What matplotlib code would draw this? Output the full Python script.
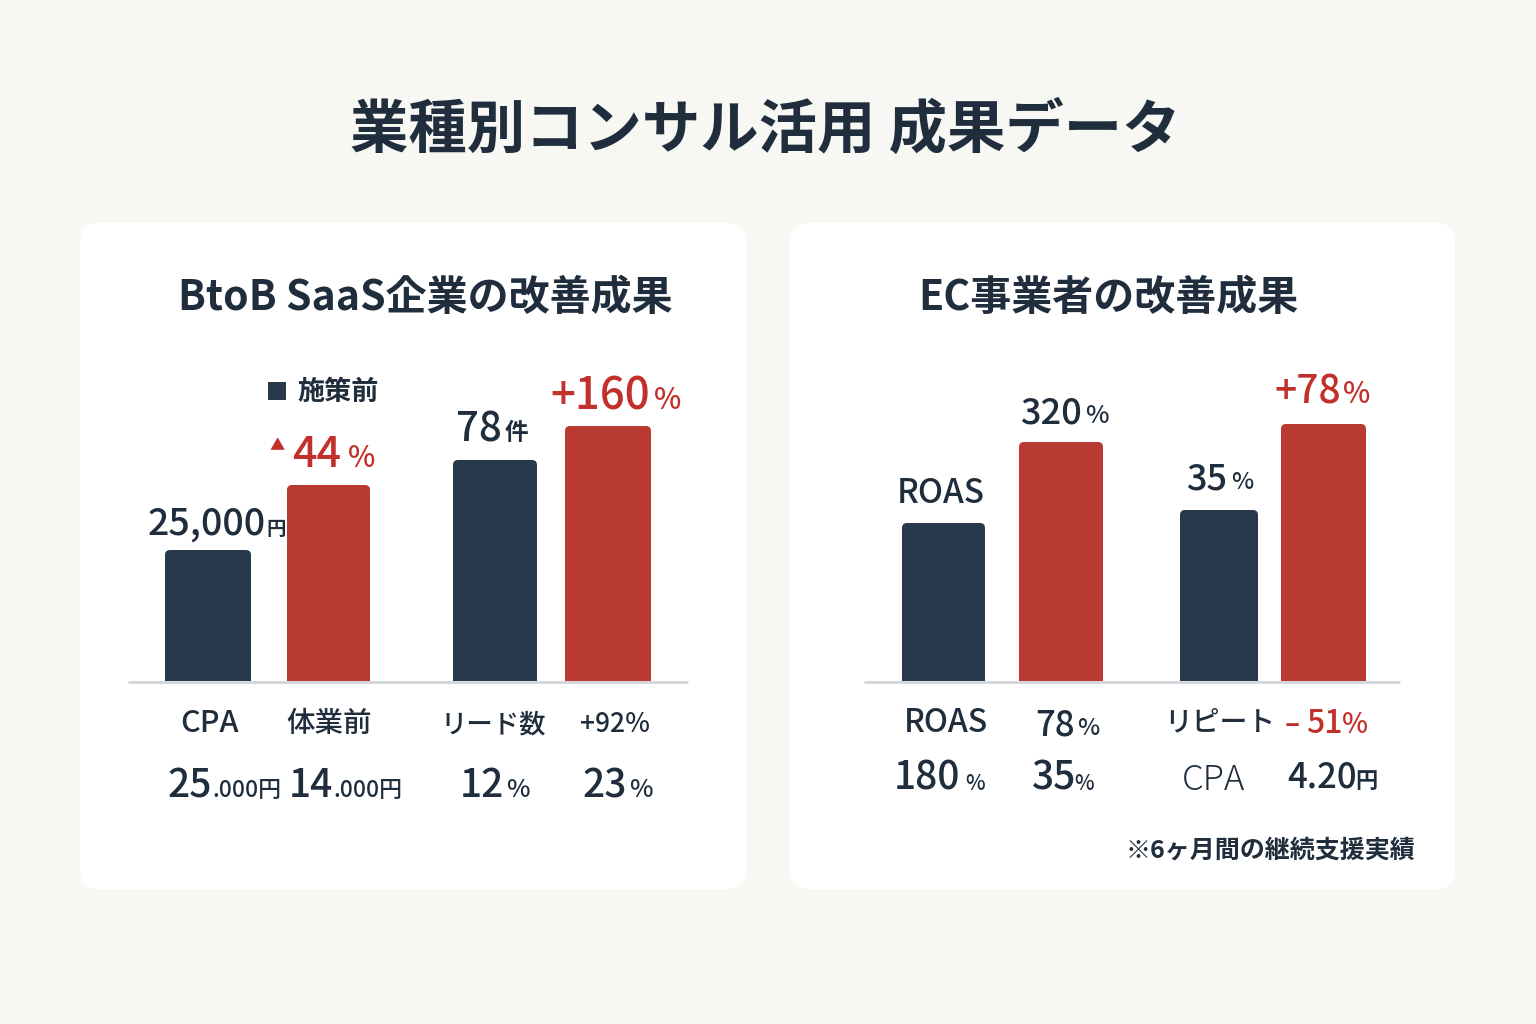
import matplotlib
matplotlib.use('Agg')
import matplotlib.pyplot as plt
from matplotlib.patches import FancyBboxPatch, Rectangle

plt.rcParams['font.family'] = ['Noto Sans CJK JP', 'DejaVu Sans']

# ---------------- data ----------------
title = '業種別コンサル活用 成果データ'
left_title = 'BtoB SaaS企業の改善成果'
right_title = 'EC事業者の改善成果'
legend_label = '施策前'
footnote = '※6ヶ月間の継続支援実績'

# bar heights as drawn (relative units above the baseline)
left_before = [131, 221]
left_after = [196, 255]
right_before = [158, 171]
right_after = [239, 257]

left_row1 = ['CPA', '体業前', 'リード数', '+92%']
right_row1_names = ['ROAS', 'リピート']
right_row2_cpa = 'CPA'

# ---------------- style ----------------
W, H = 1536, 1024
BG = '#f7f7f4'
NAVY = '#27394b'
RED = '#b93a32'
TXT = '#1f2d3c'
RTXT = '#c1302a'
BASE = '#d2d5d9'

fig = plt.figure(figsize=(W / 100, H / 100), dpi=100, facecolor=BG)
canvas = fig.add_axes([0, 0, 1, 1])
canvas.set_xlim(0, W)
canvas.set_ylim(H, 0)
canvas.axis('off')


def txt(x, y, s, size, color=TXT, weight='bold', ha='left', va='baseline', **kw):
    canvas.text(x, y, s, fontsize=size, color=color, fontweight=weight,
                ha=ha, va=va, **kw)


# panels
for x0, x1 in [(80, 746), (790, 1455)]:
    canvas.add_patch(FancyBboxPatch((x0, 223), x1 - x0, 666,
                                    boxstyle='round,pad=0,rounding_size=18',
                                    facecolor='white', edgecolor='none'))

# titles
txt(765, 131, title, 42, ha='center', va='center')
txt(425, 298, left_title, 29.5, ha='center', va='center')
txt(1108, 298, right_title, 29.5, ha='center', va='center')


def bar_axes(x0, x1, top=340):
    base = 681
    ax = fig.add_axes([x0 / W, (H - base) / H, (x1 - x0) / W, (base - top) / H])
    ax.set_xlim(0, x1 - x0)
    ax.set_ylim(0, base - top)
    ax.axis('off')
    ax.patch.set_alpha(0)
    return ax


def draw_bars(ax, xs, widths, heights, colors):
    for x, w, h, c in zip(xs, widths, heights, colors):
        ax.add_patch(FancyBboxPatch((x, -8), w, h + 8,
                                    boxstyle='round,pad=0,rounding_size=5',
                                    facecolor=c, edgecolor='none'))
    ax.plot([0, ax.get_xlim()[1]], [-1, -1], color=BASE, lw=2, clip_on=False,
            solid_capstyle='butt')


# left chart
axL = bar_axes(128, 688)
draw_bars(axL, [37, 159, 325, 437], [86, 83, 84, 86],
          [left_before[0], left_after[0], left_before[1], left_after[1]],
          [NAVY, RED, NAVY, RED])

# right chart
axR = bar_axes(864, 1400)
draw_bars(axR, [38, 155, 316, 417], [83, 84, 78, 85],
          [right_before[0], right_after[0], right_before[1], right_after[1]],
          [NAVY, RED, NAVY, RED])

# ---- left annotations ----
canvas.add_patch(Rectangle((268, 382), 18, 18, facecolor=NAVY, edgecolor='none'))
txt(297, 392, legend_label, 19.5, va='center')

txt(148, 535, '25,000', 27, weight='medium')
txt(266, 535, '円', 14)
txt(270, 450, '▲', 11, color=RTXT, weight='normal')
txt(292, 467, '44', 31, color=RTXT, weight='medium')
txt(348, 467, '%', 21, color=RTXT, weight='medium')
txt(456, 442, '78', 29, weight='medium')
txt(505, 440, '件', 17)
txt(550, 409, '+160', 31.5, color=RTXT, weight='medium')
txt(654, 409, '%', 21, color=RTXT, weight='medium')

for cx, s, fs in zip([209, 329, 493, 615], left_row1, [22, 20.5, 19, 19]):
    txt(cx, 732, s, fs, weight='medium', ha='center')

txt(212, 797, '25', 28, weight='medium', ha='right')
txt(212, 797, '.000円', 16.5, weight='medium')
txt(333, 797, '14', 28, weight='medium', ha='right')
txt(333, 797, '.000円', 16.5, weight='medium')
txt(504, 797, '12', 28, weight='medium', ha='right')
txt(506, 797, '%', 18, weight='medium')
txt(627, 797, '23', 28, weight='medium', ha='right')
txt(629, 797, '%', 18, weight='medium')

# ---- right annotations ----
txt(941, 503, right_row1_names[0], 24, weight='medium', ha='center')
txt(1020, 423, '320', 26, weight='medium')
txt(1085, 423, '%', 18, weight='medium')
txt(1186, 489, '35', 26, weight='medium')
txt(1231, 489, '%', 17, weight='medium')
txt(1274, 403, '+78', 28, color=RTXT, weight='medium')
txt(1343, 403, '%', 21, color=RTXT, weight='medium')

txt(946, 732, right_row1_names[0], 23, weight='medium', ha='center')
txt(1035, 735, '78', 25, weight='medium')
txt(1077, 735, '%', 17, weight='medium')
txt(1220, 730, right_row1_names[1], 20, weight='medium', ha='center')
txt(1285, 733, '–', 20, color=RTXT, weight='bold')
txt(1306, 733, '51', 23, color=RTXT, weight='medium')
txt(1342, 733, '%', 20, color=RTXT, weight='medium')

txt(894, 790, '180', 28, weight='medium')
txt(965, 790, '%', 15, weight='medium')
txt(1032, 790, '35', 28, weight='medium')
txt(1074, 790, '%', 15, weight='medium')
txt(1214, 790, right_row2_cpa, 25, weight='light', ha='center')
txt(1287, 788, '4.20', 25, weight='medium')
txt(1355, 788, '円', 16)

txt(1415, 851, footnote, 18, ha='right', va='center')

fig.savefig('out.png', dpi=100, facecolor=BG)
